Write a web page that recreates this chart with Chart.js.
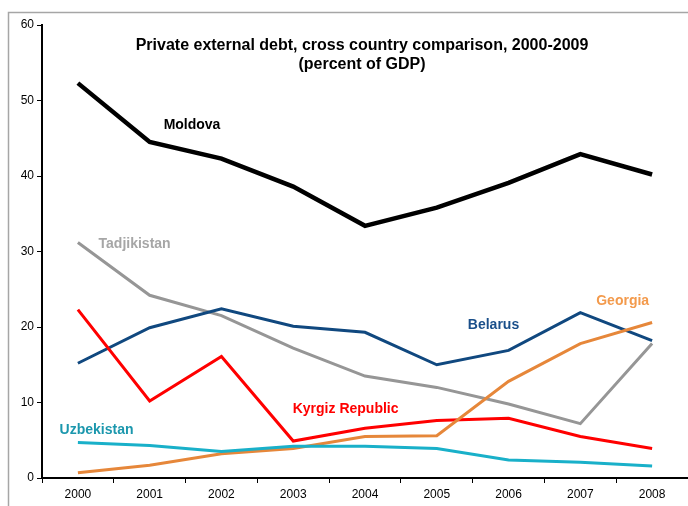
<!DOCTYPE html>
<html lang="en">
<head>
  <meta charset="UTF-8">
  <title>Private external debt</title>
  <script src="https://cdn.jsdelivr.net/npm/chart.js"></script>
  <style>
    body { margin: 0; background: #fff; }
    #wrap { width: 688px; height: 506px; position: relative; }
  </style>
</head>
<body>
  <div id="wrap"><canvas id="debtChart"></canvas></div>

  <script>
    const years = ['2000', '2001', '2002', '2003', '2004', '2005', '2006', '2007', '2008'];
    const moldova    = [52.3, 44.5, 42.3, 38.6, 33.4, 35.8, 39.1, 42.9, 40.2];
    const tadjikistan = [31.2, 24.2, 21.5, 17.2, 13.5, 12.0, 9.8, 7.2, 17.8];
    const belarus    = [15.2, 19.9, 22.4, 20.1, 19.3, 15.0, 16.9, 21.9, 18.2];
    const kyrgyz     = [22.3, 10.2, 16.1, 4.9, 6.6, 7.6, 7.9, 5.5, 3.9];
    const georgia    = [0.7, 1.7, 3.2, 3.9, 5.5, 5.6, 12.8, 17.8, 20.6];
    const uzbekistan = [4.7, 4.3, 3.5, 4.2, 4.2, 3.9, 2.4, 2.1, 1.6];

    // series name labels, anchored in data space (category index, value)
    const seriesLabels = [
      { text: 'Moldova', x: 1.59, y: 46.7, color: '#000000' },
      { text: 'Tadjikistan', x: 0.79, y: 31.0, color: '#a6a6a6' },
      { text: 'Belarus', x: 5.79, y: 20.3, color: '#1a4f8a' },
      { text: 'Georgia', x: 7.59, y: 23.4, color: '#f39a4c' },
      { text: 'Kyrgiz Republic', x: 3.73, y: 9.1, color: '#ff0000' },
      { text: 'Uzbekistan', x: 0.26, y: 6.4, color: '#1b97ad' }
    ];

    const annotate = {
      id: 'annotate',
      beforeDraw(chart) {
        const ctx = chart.ctx;
        ctx.save();
        ctx.strokeStyle = '#a6a6a6';
        ctx.lineWidth = 1.5;
        ctx.strokeRect(8.5, 12.5, 720, 520);
        ctx.restore();
      },
      afterDraw(chart) {
        const ctx = chart.ctx;
        const xs = chart.scales.x, ys = chart.scales.y;
        ctx.save();
        ctx.textAlign = 'center';
        ctx.textBaseline = 'middle';
        ctx.fillStyle = '#000';
        ctx.font = 'bold 16px "Liberation Sans", Arial, sans-serif';
        ctx.fillText('Private external debt, cross country comparison, 2000-2009', 362, 46);
        ctx.fillText('(percent of GDP)', 362, 65);
        ctx.font = 'bold 14px "Liberation Sans", Arial, sans-serif';
        seriesLabels.forEach(l => {
          ctx.fillStyle = l.color;
          ctx.fillText(l.text, xs.getPixelForValue(l.x), ys.getPixelForValue(l.y));
        });
        ctx.restore();
      }
    };

    const line = (label, data, color, width) => ({
      label, data,
      borderColor: color,
      borderWidth: width,
      pointRadius: 0,
      tension: 0,
      fill: false
    });

    new Chart(document.getElementById('debtChart'), {
      type: 'line',
      data: {
        labels: years,
        datasets: [
          line('Uzbekistan', uzbekistan, '#19b0c9', 3),
          line('Georgia', georgia, '#e6873a', 3),
          line('Kyrgiz Republic', kyrgyz, '#ff0000', 3),
          line('Belarus', belarus, '#10487f', 3),
          line('Tadjikistan', tadjikistan, '#969696', 3),
          line('Moldova', moldova, '#000000', 4.5)
        ]
      },
      options: {
        responsive: true,
        maintainAspectRatio: false,
        animation: false,
        layout: { padding: { top: 25, left: 0, right: 0, bottom: 0 } },
        plugins: {
          legend: { display: false },
          title: { display: false },
          tooltip: { enabled: false }
        },
        scales: {
          x: {
            offset: true,
            grid: { drawOnChartArea: false, offset: true, tickLength: 5, color: '#000', lineWidth: 1 },
            border: { color: '#000', width: 2 },
            ticks: { color: '#000', font: { family: 'Liberation Sans', size: 12 }, padding: 4, maxRotation: 0 },
            afterFit(scale) { scale.height = 28; }
          },
          y: {
            min: 0,
            max: 60,
            grid: { drawOnChartArea: false, tickLength: 5, color: '#000', lineWidth: 1 },
            border: { color: '#000', width: 2 },
            ticks: { stepSize: 10, color: '#000', font: { family: 'Liberation Sans', size: 12 }, padding: 3 },
            afterFit(scale) { scale.width = 42; }
          }
        }
      },
      plugins: [annotate]
    });
  </script>
</body>
</html>
